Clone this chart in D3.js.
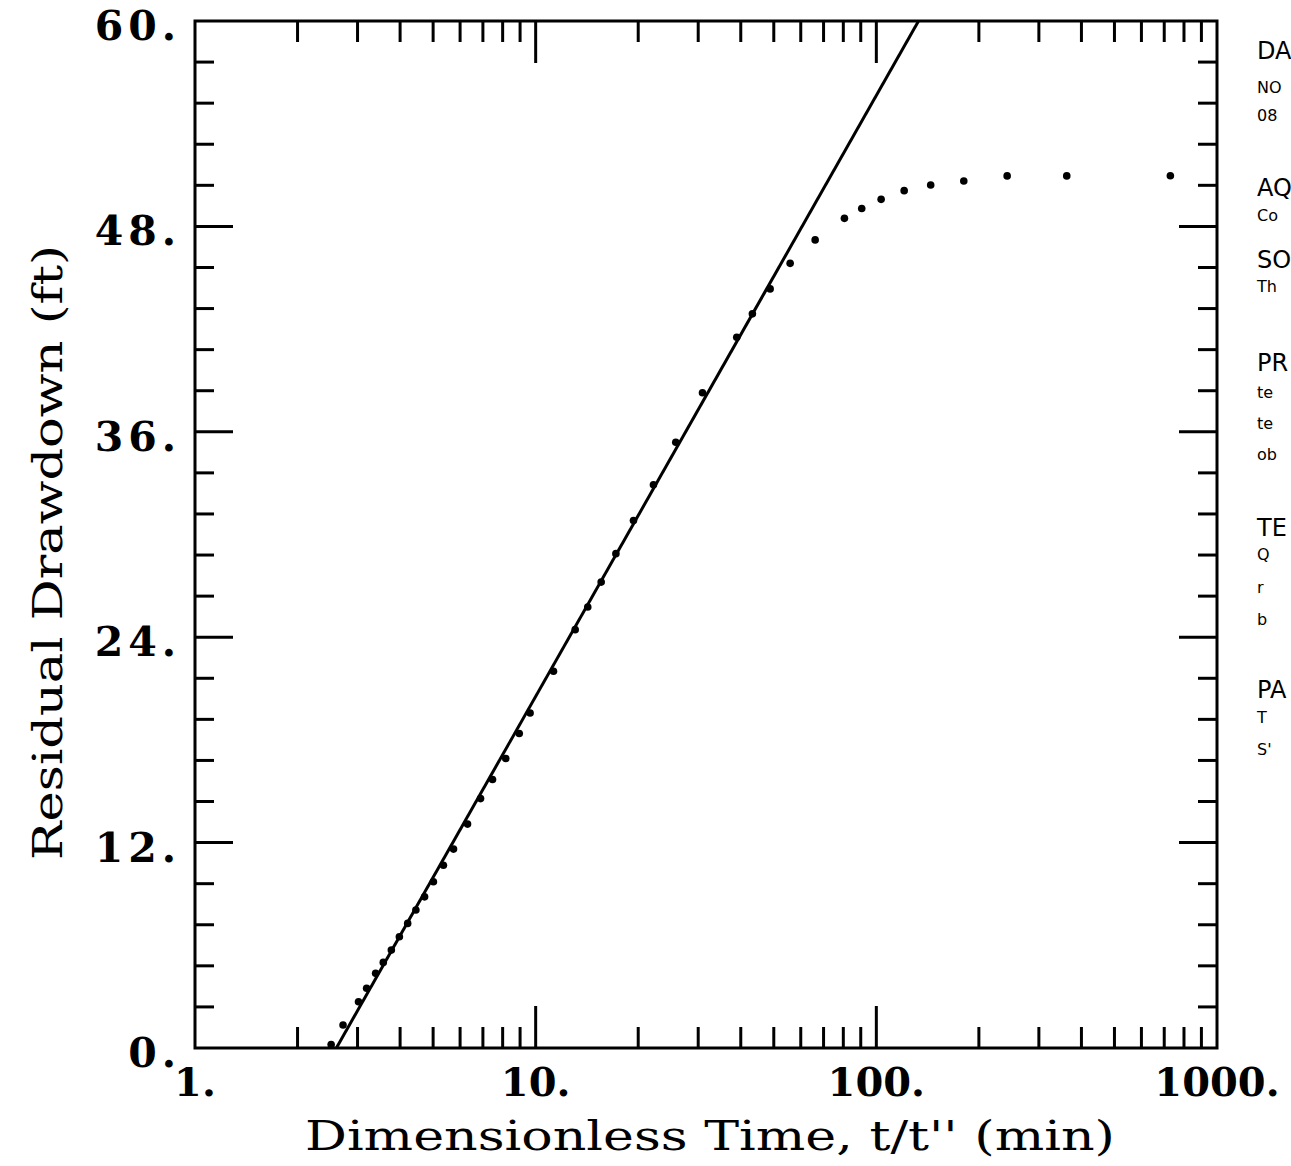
<!DOCTYPE html>
<html>
<head>
<meta charset="utf-8">
<script src="https://cdn.jsdelivr.net/npm/d3@7"></script>
<style>
  html, body { margin: 0; padding: 0; background: #fff; overflow: hidden; }
  svg { display: block; }
</style>
</head>
<body>
<svg id="chart" width="1291" height="1166"></svg>
<script>
// recovery data
const timeRatio = [2.51, 2.72, 3.02, 3.19, 3.39, 3.57, 3.77, 3.98, 4.21, 4.45,
  4.72, 5.01, 5.36, 5.74, 6.31, 6.89, 7.47, 8.17, 8.95, 9.63,
  11.28, 13.06, 14.22, 15.57, 17.2, 19.37, 22.17, 25.78, 30.88, 38.93,
  43.27, 48.78, 55.85, 66.13, 80.6, 90.6, 103.3, 120.7, 144.4, 180.6,
  242.1, 362.2, 729.6];
const drawdown = [0.2, 1.34, 2.7, 3.49, 4.36, 5.0, 5.72, 6.5, 7.28, 8.06,
  8.83, 9.71, 10.68, 11.62, 13.08, 14.57, 15.69, 16.91, 18.37, 19.57,
  22.01, 24.44, 25.76, 27.22, 28.88, 30.82, 32.91, 35.39, 38.28, 41.52,
  42.89, 44.35, 45.84, 47.21, 48.47, 49.05, 49.58, 50.09, 50.42, 50.65,
  50.95, 50.95, 50.96];

// straight-line fit end points
const fitT = [2.6, 133];
const fitS = [0, 60];

const xTickVals = [1, 10, 100, 1000];
const xTickText = ["1.", "10.", "100.", "1000."];
const yTickVals = [0, 12, 24, 36, 48, 60];
const yTickText = ["0.", "12.", "24.", "36.", "48.", "60."];

// side panel text (cut off at the page edge)
const panelBig = [["DA", 59], ["AQ", 196], ["SO", 268], ["PR", 371], ["TE", 536], ["PA", 698]];
const panelSmall = [["NO", 93], ["08", 121], ["Co", 221], ["Th", 292], ["te", 398], ["te", 429],
  ["ob", 460], ["Q", 560], ["r", 593], ["b", 625], ["T", 723], ["S'", 755]];

const dims = { left: 195, right: 1217, top: 21, bottom: 1048 };

const svg = d3.select("#chart");

const x = d3.scaleLog().domain([1, 1000]).range([dims.left, dims.right]);
const y = d3.scaleLinear().domain([0, 60]).range([dims.bottom, dims.top]);

const serif = "'DejaVu Serif', serif";

// minor / major tick positions
let xMinor = [];
[1, 10, 100].forEach(dec => {
  for (let k = 2; k <= 9; k++) xMinor.push(dec * k);
});
const xMajor = [10, 100];
const yMinor = d3.range(1, 25).map(i => i * 2.4).filter(v => Math.abs(v / 12 - Math.round(v / 12)) > 1e-6);
const yMajor = [12, 24, 36, 48];

const tk = svg.append("g").attr("stroke", "#000").attr("stroke-width", 3);

// bottom and top ticks
xMinor.forEach(v => {
  tk.append("line").attr("x1", x(v)).attr("x2", x(v)).attr("y1", dims.bottom).attr("y2", dims.bottom - 21);
  tk.append("line").attr("x1", x(v)).attr("x2", x(v)).attr("y1", dims.top).attr("y2", dims.top + 21);
});
xMajor.forEach(v => {
  tk.append("line").attr("x1", x(v)).attr("x2", x(v)).attr("y1", dims.bottom).attr("y2", dims.bottom - 42);
  tk.append("line").attr("x1", x(v)).attr("x2", x(v)).attr("y1", dims.top).attr("y2", dims.top + 42);
});
// left and right ticks
yMinor.forEach(v => {
  tk.append("line").attr("x1", dims.left).attr("x2", dims.left + 19).attr("y1", y(v)).attr("y2", y(v));
  tk.append("line").attr("x1", dims.right).attr("x2", dims.right - 19).attr("y1", y(v)).attr("y2", y(v));
});
yMajor.forEach(v => {
  tk.append("line").attr("x1", dims.left).attr("x2", dims.left + 38).attr("y1", y(v)).attr("y2", y(v));
  tk.append("line").attr("x1", dims.right).attr("x2", dims.right - 38).attr("y1", y(v)).attr("y2", y(v));
});

// frame
svg.append("rect")
  .attr("x", dims.left).attr("y", dims.top)
  .attr("width", dims.right - dims.left).attr("height", dims.bottom - dims.top)
  .attr("fill", "none").attr("stroke", "#000").attr("stroke-width", 3);

// tick labels
svg.append("g").selectAll("text")
  .data(xTickVals)
  .join("text")
  .attr("x", d => x(d))
  .attr("y", dims.bottom + 48)
  .attr("text-anchor", "middle")
  .attr("font-family", serif)
  .attr("font-weight", "bold")
  .attr("font-size", 40)
  .text((d, i) => xTickText[i]);

svg.append("g").selectAll("text")
  .data(yTickVals)
  .join("text")
  .attr("x", dims.left - 14)
  .attr("y", d => y(d) + 19)
  .attr("text-anchor", "end")
  .attr("font-family", serif)
  .attr("font-weight", "bold")
  .attr("font-size", 41)
  .attr("letter-spacing", 5)
  .text((d, i) => yTickText[i]);

// axis titles, wide plotter lettering
svg.append("text")
  .attr("x", 305).attr("y", 1150)
  .attr("font-family", serif)
  .attr("font-size", 41)
  .attr("textLength", 810)
  .attr("lengthAdjust", "spacingAndGlyphs")
  .text("Dimensionless Time, t/t'' (min)");

svg.append("text")
  .attr("transform", `translate(62, 860) rotate(-90)`)
  .attr("font-family", serif)
  .attr("font-size", 41)
  .attr("textLength", 615)
  .attr("lengthAdjust", "spacingAndGlyphs")
  .text("Residual Drawdown (ft)");

// fitted line, clipped to the frame
svg.append("clipPath").attr("id", "plotClip")
  .append("rect")
  .attr("x", dims.left).attr("y", dims.top)
  .attr("width", dims.right - dims.left).attr("height", dims.bottom - dims.top);

svg.append("path")
  .datum(fitT.map((t, i) => [t, fitS[i]]))
  .attr("clip-path", "url(#plotClip)")
  .attr("fill", "none")
  .attr("stroke", "#000")
  .attr("stroke-width", 3)
  .attr("d", d3.line().x(d => x(d[0])).y(d => y(d[1])));

// data points
svg.append("g").selectAll("circle")
  .data(timeRatio)
  .join("circle")
  .attr("cx", d => x(d))
  .attr("cy", (d, i) => y(drawdown[i]))
  .attr("r", 3.8)
  .attr("fill", "#000");

// side panel
const panel = svg.append("g").attr("font-family", "'DejaVu Sans', sans-serif").attr("fill", "#000");
panel.selectAll("text.big")
  .data(panelBig)
  .join("text")
  .attr("class", "big")
  .attr("x", 1257)
  .attr("y", d => d[1])
  .attr("font-size", 24)
  .text(d => d[0]);
panel.selectAll("text.small")
  .data(panelSmall)
  .join("text")
  .attr("class", "small")
  .attr("x", 1257)
  .attr("y", d => d[1])
  .attr("font-size", 16)
  .text(d => d[0]);
</script>
</body>
</html>
